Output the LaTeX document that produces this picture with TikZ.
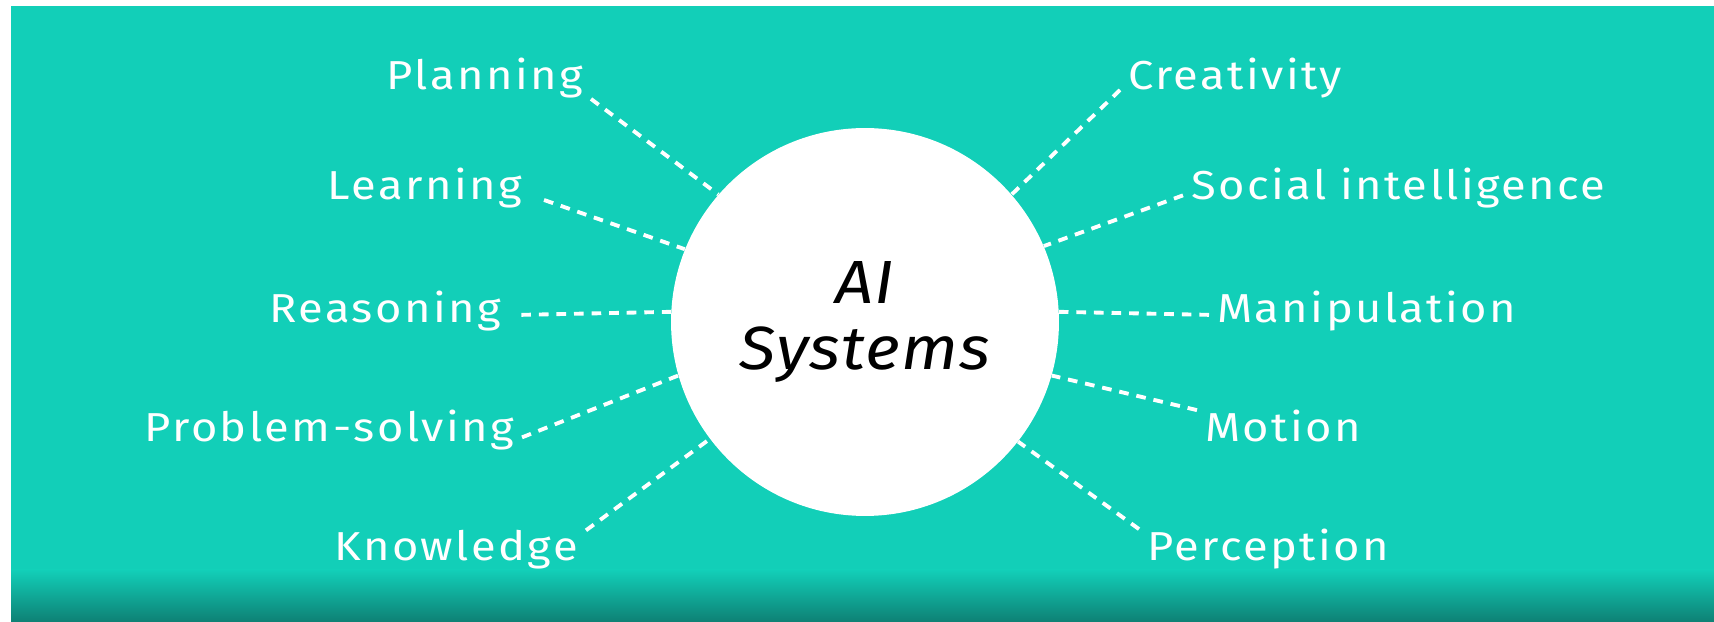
\documentclass[tikz,border=0pt]{standalone}
\usepackage{fontspec}
\setmainfont{Fira Sans}[FakeStretch=1.12, LetterSpace=6]
\newfontfamily\hubfont{Fira Sans}[FakeStretch=1.1, LetterSpace=2]
\usetikzlibrary{positioning}

\definecolor{tealbg}{HTML}{12CFB8}
\definecolor{tealdark}{HTML}{0E8074}

\begin{document}
\begin{tikzpicture}[x=0.02cm, y=0.02cm]
    % Define styles
    \tikzset{
        skill/.style={
            text=white,
            font=\fontsize{23}{28}\selectfont,
            inner xsep=4.5pt,
            inner ysep=0pt
        },
        hub/.style={
            circle,
            fill=white,
            minimum size=7.76cm,
            inner sep=0pt,
            align=center,
            font=\hubfont\fontsize{34.7}{38}\selectfont\itshape
        },
        link/.style={
            white,
            line width=2.2pt,
            dash pattern=on 5.5pt off 4.5pt
        }
    }

    % Background
    \useasboundingbox (0,0) rectangle (1714,622);
    \fill[white] (0,0) rectangle (1714,622);
    \fill[tealbg] (11,0) rectangle (1714,616);
    \shade[top color=tealbg, bottom color=tealdark] (11,0) rectangle (1714,52);

    % Centre
    \node[hub] (ai) at (865,300) {AI\\Systems};

    % Left side
    \node[skill, anchor=base east] (plan) at (591,532) {Planning};
    \node[skill, anchor=base east] (learn) at (530,422) {Learning};
    \node[skill, anchor=base east] (reason) at (509,299) {Reasoning};
    \node[skill, anchor=base east] (solve) at (522,180) {Problem-solving};
    \node[skill, anchor=base east] (know) at (586,61) {Knowledge};

    % Right side
    \node[skill, anchor=base west] (create) at (1120,532) {Creativity};
    \node[skill, anchor=base west] (social) at (1183,422) {Social intelligence};
    \node[skill, anchor=base west] (manip) at (1209,299) {Manipulation};
    \node[skill, anchor=base west] (motion) at (1197,180) {Motion};
    \node[skill, anchor=base west] (percep) at (1139,61) {Perception};

    % Dashed links
    \draw[link] (plan.south east) -- (ai.139);
    \draw[link] ([xshift=8pt]learn.base east) -- (ai.158);
    \draw[link] ([xshift=7pt, yshift=2pt]reason.mid east) -- (ai.177);
    \draw[link] (solve.mid east) -- (ai.196);
    \draw[link] (know.north east) -- (ai.217);
    \draw[link] (create.base west) -- (ai.41);
    \draw[link] (social.mid west) -- (ai.23);
    \draw[link] ([yshift=2pt]manip.mid west) -- (ai.3);
    \draw[link] (motion.north west) -- (ai.344);
    \draw[link] (percep.north west) -- (ai.322);
\end{tikzpicture}
\end{document}
